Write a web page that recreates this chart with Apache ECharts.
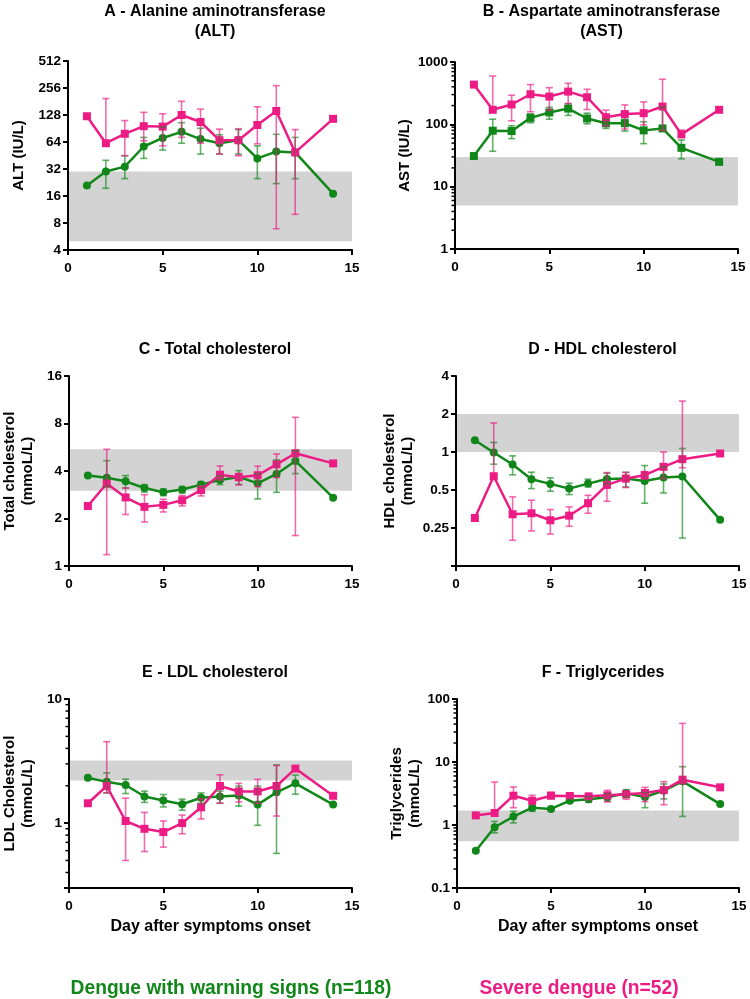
<!DOCTYPE html>
<html><head><meta charset="utf-8">
<script src="https://cdn.jsdelivr.net/npm/echarts@6/dist/echarts.min.js"></script>
<style>html,body{margin:0;padding:0;background:#fff}#c{width:750px;height:999px}</style>
</head><body><div id="c"></div>
<script>
const days = [1,2,3,4,5,6,7,8,9,10,11,12,14];

// A - ALT
const altSevere   = [124,62,79,96,95,128,107,67,67,99,142,49,116];
const altSevereHi = [null,195,111,137,132,182,149,89,90,158,272,88,null];
const altSevereLo = [null,60,45,66,58,72,62,47,45,61,6.9,10,null];
const altWarn     = [21,30,34,57,71,83,69,62,67,42,50,49,17];
const altWarnHi   = [null,40,45,72,94,105,91,77,88,58,78,72,null];
const altWarnLo   = [null,19.5,25,42,52,62,47,47,47,25,22,25,null];
const altRef      = [5,30];

// B - AST
const astSevere   = [434,171,208,304,279,335,272,130,146,151,193,69,171];
const astSevereHi = [null,597,293,434,388,455,365,169,205,229,528,81,null];
const astSevereLo = [null,165,114,159,169,215,173,95,84,98,80,62,null];
const astWarn     = [31,79,78,127,155,179,124,104,104,80,86,42,25];
const astWarnHi   = [null,121,95,147,188,215,151,121,121,110,190,56,null];
const astWarnLo   = [null,37,59,106,121,139,102,86,78,49,80,28,null];
const astRef      = [5,30];
const astMinor    = [2,3,4,5,6,7,8,9,20,30,40,50,60,70,80,90,200,300,400,500,600,700,800,900];

// C - Total cholesterol
const tcSevere   = [2.4,3.33,2.72,2.37,2.44,2.61,3.03,3.79,3.65,3.76,4.41,5.18,4.47];
const tcSevereHi = [null,5.49,3.12,2.83,2.65,2.8,3.21,4.3,3.87,4.3,5.13,8.75,null];
const tcSevereLo = [null,1.18,2.12,1.9,2.2,2.4,2.78,3.51,3.26,3.18,3.63,1.56,null];
const tcWarn     = [3.74,3.63,3.44,3.12,2.93,3.05,3.28,3.51,3.67,3.34,3.83,4.63,2.71];
const tcWarnHi   = [null,4.65,3.74,3.28,3.08,3.18,3.42,3.72,4.02,3.85,4.7,5.38,null];
const tcWarnLo   = [null,3.18,3.12,2.94,2.79,2.9,3.15,3.28,3.29,2.66,2.93,3.85,null];
const tcRef      = [3,5.5];

// D - HDL cholesterol
const hdlSevere   = [0.30,0.643,0.321,0.327,0.288,0.313,0.393,0.549,0.616,0.655,0.763,0.877,0.973];
const hdlSevereHi = [null,1.70,0.441,0.415,0.35,0.367,0.454,0.687,0.69,0.70,1.0,2.53,null];
const hdlSevereLo = [null,0.62,0.2,0.237,0.224,0.258,0.327,0.407,0.523,0.61,0.616,0.75,null];
const hdlWarn     = [1.24,0.99,0.796,0.609,0.559,0.513,0.562,0.612,0.616,0.59,0.628,0.639,0.29];
const hdlWarnHi   = [null,1.19,0.932,0.692,0.624,0.566,0.609,0.679,0.69,0.781,0.763,1.066,null];
const hdlWarnLo   = [null,0.80,0.659,0.513,0.489,0.46,0.529,0.559,0.529,0.393,0.474,0.208,null];
const hdlRef      = [1,2];

// E - LDL cholesterol
const ldlSevere   = [1.445,1.99,1.04,0.90,0.847,1.0,1.34,1.99,1.80,1.80,1.99,2.75,1.66];
const ldlSevereHi = [null,4.53,1.59,1.22,1.04,1.16,1.57,2.45,2.09,2.25,2.91,null,null];
const ldlSevereLo = [null,1.75,0.5,0.59,0.64,0.82,1.08,1.445,1.48,1.445,1.14,null,null];
const ldlWarn     = [2.32,2.15,2.03,1.64,1.52,1.42,1.60,1.64,1.67,1.41,1.77,2.09,1.41];
const ldlWarnHi   = [null,2.54,2.26,1.81,1.70,1.56,1.75,1.81,1.99,1.99,2.94,2.44,null];
const ldlWarnLo   = [null,1.75,1.73,1.47,1.35,1.27,1.445,1.45,1.37,0.96,0.57,1.71,null];
const ldlRef      = [2.2,3.2];
const ldlMinor    = [0.4,0.5,0.6,0.7,0.8,0.9,2,3,4,5,6,7,8,9];

// F - Triglycerides
const tgSevere   = [1.42,1.55,2.92,2.43,2.92,2.89,2.85,2.96,3.07,3.22,3.59,5.24,3.96];
const tgSevereHi = [null,4.81,4.01,2.96,3.3,3.07,3.1,3.55,3.5,3.96,4.87,41,null];
const tgSevereLo = [null,1.5,1.88,2.13,2.62,2.68,2.62,2.32,2.56,2.35,2.1,4.5,null];
const tgWarn     = [0.39,0.92,1.36,1.88,1.80,2.43,2.56,2.75,3.18,2.78,3.51,4.93,2.15];
const tgWarnHi   = [null,1.14,1.65,2.05,1.91,2.59,2.82,3.14,3.64,3.3,4.48,8.43,null];
const tgWarnLo   = [null,0.75,1.08,1.65,1.67,2.32,2.29,2.38,2.78,1.88,2.59,1.37,null];
const tgRef      = [0.55,1.7];
const tgMinor    = [0.2,0.3,0.4,0.5,0.6,0.7,0.8,0.9,2,3,4,5,6,7,8,9,20,30,40,50,60,70,80,90];

const titles = ['A - Alanine aminotransferase\n(ALT)','B - Aspartate aminotransferase\n(AST)','C - Total cholesterol','D - HDL cholesterol','E - LDL cholesterol','F - Triglycerides'];
const yNames = ['ALT (IU/L)','AST (IU/L)','Total cholesterol\n(mmoL/L)','HDL cholesterol\n(mmoL/L)','LDL Cholesterol\n(mmoL/L)','Triglycerides\n(mmoL/L)'];
const xName = 'Day after symptoms onset';
const legendWarn = 'Dengue with warning signs (n=118)';
const legendSevere = 'Severe dengue (n=52)';

const PINK = '#EC1C84', GREEN = '#11871A';
const PINK_ERR = 'rgba(236,28,132,0.65)', GREEN_ERR = 'rgba(17,135,26,0.65)';
const FONT = '"Liberation Sans", Arial, sans-serif';

const panels = [
  {grid:{left:68,top:61,width:284,height:189}, base:2, min:4, max:512, sev:[altSevere,altSevereLo,altSevereHi], warn:[altWarn,altWarnLo,altWarnHi], ref:altRef, minor:null, warnSym:'circle', nameGap:40, xName:false, hideBelow:null},
  {grid:{left:455,top:62,width:283,height:187}, base:10, min:1, max:1000, sev:[astSevere,astSevereLo,astSevereHi], warn:[astWarn,astWarnLo,astWarnHi], ref:astRef, minor:astMinor, warnSym:'rect', nameGap:39, xName:false, hideBelow:null},
  {grid:{left:68,top:376,width:284,height:190}, base:2, min:1, max:16, sev:[tcSevere,tcSevereLo,tcSevereHi], warn:[tcWarn,tcWarnLo,tcWarnHi], ref:tcRef, minor:null, warnSym:'circle', nameGap:32, xName:false, hideBelow:null},
  {grid:{left:456,top:376,width:283,height:190}, base:2, min:0.125, max:4, sev:[hdlSevere,hdlSevereLo,hdlSevereHi], warn:[hdlWarn,hdlWarnLo,hdlWarnHi], ref:hdlRef, minor:null, warnSym:'circle', nameGap:39, xName:false, hideBelow:0.2},
  {grid:{left:68,top:699,width:284,height:189}, base:10, min:0.3, max:10, sev:[ldlSevere,ldlSevereLo,ldlSevereHi], warn:[ldlWarn,ldlWarnLo,ldlWarnHi], ref:ldlRef, minor:ldlMinor, warnSym:'circle', nameGap:32, xName:true, hideBelow:0.5},
  {grid:{left:457,top:699,width:282,height:189}, base:10, min:0.1, max:100, sev:[tgSevere,tgSevereLo,tgSevereHi], warn:[tgWarn,tgWarnLo,tgWarnHi], ref:tgRef, minor:tgMinor, warnSym:'circle', nameGap:31, xName:true, hideBelow:null}
];
const titleTops = [-3,-3,335,335,658,658];

function errRender(color){
  return function(params, api){
    const x = api.value(0), lo = api.value(1), hi = api.value(2);
    const a = api.coord([x, lo]), b = api.coord([x, hi]);
    const w = 3.5, st = {stroke:color, lineWidth:1.6};
    return {type:'group', children:[
      {type:'line', shape:{x1:a[0],y1:a[1],x2:b[0],y2:b[1]}, style:st},
      {type:'line', shape:{x1:a[0]-w,y1:a[1],x2:a[0]+w,y2:a[1]}, style:st},
      {type:'line', shape:{x1:b[0]-w,y1:b[1],x2:b[0]+w,y2:b[1]}, style:st}
    ]};
  };
}
function bandRender(params, api){
  const cs = params.coordSys;
  const t = api.coord([0, api.value(1)]), b = api.coord([0, api.value(0)]);
  return {type:'rect', shape:{x:cs.x, y:t[1], width:cs.width, height:b[1]-t[1]}, style:{fill:'#D3D3D3'}};
}
function minorRender(params, api){
  const p = api.coord([0, api.value(1)]);
  return {type:'line', shape:{x1:p[0]-3.5,y1:p[1],x2:p[0],y2:p[1]}, style:{stroke:'#000', lineWidth:1.5}};
}
function errData(lo, hi){
  const out = [];
  days.forEach((d,i)=>{ if(hi[i]!=null && lo[i]!=null) out.push([d, lo[i], hi[i]]); });
  return out;
}

const option = {
  animation:false,
  backgroundColor:'#fff',
  title:[], grid:[], xAxis:[], yAxis:[], series:[],
  graphic:[
    {type:'text', x:231, y:988, scaleX:0.915, originX:0, style:{text:legendWarn, x:0, y:0, align:'center', verticalAlign:'middle',
      font:'bold 21px "Liberation Sans", Arial, sans-serif', fill:GREEN}},
    {type:'text', x:579, y:988, scaleX:0.915, style:{text:legendSevere, x:0, y:0, align:'center', verticalAlign:'middle',
      font:'bold 21px "Liberation Sans", Arial, sans-serif', fill:PINK}}
  ]
};

panels.forEach((p, k)=>{
  const g = p.grid;
  option.title.push({text:titles[k], left:g.left+g.width/2, top:titleTops[k], textAlign:'center',
    textStyle:{fontFamily:FONT, fontSize:16, fontWeight:'bold', color:'#000', lineHeight:20}});
  option.grid.push(Object.assign({containLabel:false}, g));
  option.xAxis.push({type:'value', gridIndex:k, min:0, max:15, interval:5,
    axisLine:{onZero:false, lineStyle:{color:'#000', width:2}},
    axisTick:{length:5, lineStyle:{color:'#000', width:2}},
    splitLine:{show:false},
    axisLabel:{margin:11, color:'#000', fontFamily:FONT, fontSize:13.5, fontWeight:'bold'},
    name: p.xName ? xName : '', nameLocation:'middle', nameGap:31,
    nameTextStyle:{fontFamily:FONT, fontSize:16, fontWeight:'bold', color:'#000'}
  });
  option.yAxis.push({type:'log', logBase:p.base, gridIndex:k, min:p.min, max:p.max,
    axisLine:{show:true, lineStyle:{color:'#000', width:2}},
    axisTick:{show:true, length:5, lineStyle:{color:'#000', width:2}},
    splitLine:{show:false},
    axisLabel:{margin:7, color:'#000', fontFamily:FONT, fontSize:13.5, fontWeight:'bold',
      formatter:(v)=> (p.hideBelow!=null && v < p.hideBelow) ? '' : String(+v.toPrecision(6))},
    name:yNames[k], nameLocation:'middle', nameRotate:90, nameGap:p.nameGap,
    nameTextStyle:{fontFamily:FONT, fontSize:15, fontWeight:'bold', color:'#000', lineHeight:18}
  });
  option.series.push({type:'custom', xAxisIndex:k, yAxisIndex:k, z:0, silent:true,
    renderItem:bandRender, data:[[p.ref[0], p.ref[1]]], encode:{x:[], y:[0,1]}});
  if(p.minor){
    option.series.push({type:'custom', xAxisIndex:k, yAxisIndex:k, z:5, silent:true, clip:false,
      renderItem:minorRender, data:p.minor.map(v=>[0,v]), encode:{x:0, y:1}});
  }
  option.series.push({type:'line', xAxisIndex:k, yAxisIndex:k, z:3, symbol:p.warnSym, symbolSize:8,
    data:days.map((d,i)=>[d,p.warn[0][i]]), lineStyle:{color:GREEN, width:2.5}, itemStyle:{color:GREEN}});
  option.series.push({type:'line', xAxisIndex:k, yAxisIndex:k, z:3, symbol:'rect', symbolSize:8,
    data:days.map((d,i)=>[d,p.sev[0][i]]), lineStyle:{color:PINK, width:2.5}, itemStyle:{color:PINK}});
  option.series.push({type:'custom', xAxisIndex:k, yAxisIndex:k, z:4, silent:true,
    renderItem:errRender(GREEN_ERR), data:errData(p.warn[1], p.warn[2]), encode:{x:0, y:[1,2]}});
  option.series.push({type:'custom', xAxisIndex:k, yAxisIndex:k, z:4, silent:true,
    renderItem:errRender(PINK_ERR), data:errData(p.sev[1], p.sev[2]), encode:{x:0, y:[1,2]}});
});

const chart = echarts.init(document.getElementById('c'), null, {renderer:'canvas'});
chart.setOption(option);
</script>
</body></html>
